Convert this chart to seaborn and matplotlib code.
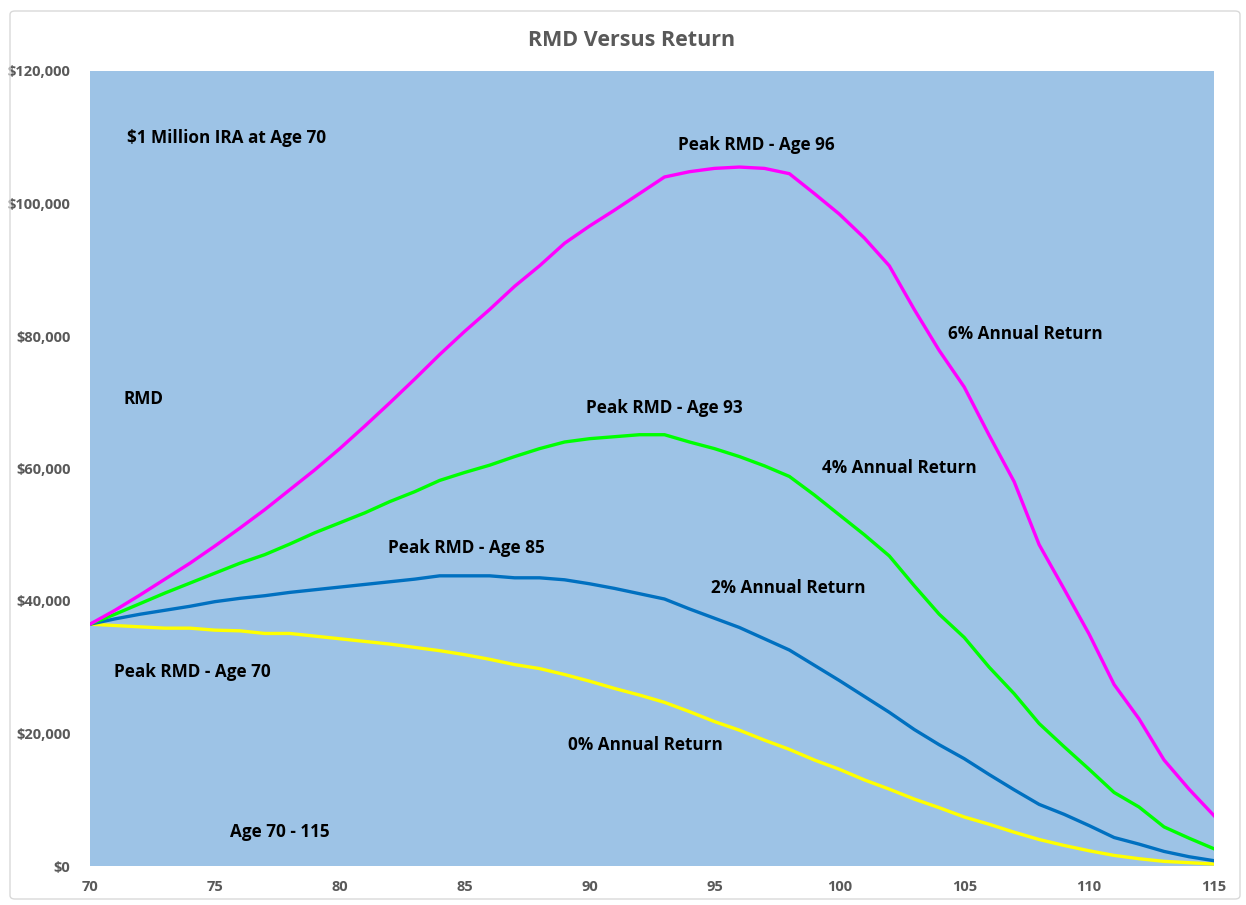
import numpy as np
import pandas as pd
import seaborn as sns
import matplotlib.pyplot as plt
from matplotlib.patches import FancyBboxPatch
from matplotlib.ticker import FuncFormatter

# Edad 70 a 115
ages = list(range(70, 116))

# RMD en miles de dolares
rmd_0 = [36.5, 36.3, 36.1, 35.9, 35.9, 35.6, 35.5, 35.1, 35.1, 34.7,
         34.3, 33.9, 33.5, 33.0, 32.5, 31.9, 31.2, 30.4, 29.8, 28.9,
         27.9, 26.8, 25.8, 24.7, 23.3, 21.8, 20.5, 19.0, 17.6, 16.0,
         14.6, 13.0, 11.6, 10.1, 8.8, 7.4, 6.3, 5.1, 4.0, 3.1,
         2.3, 1.6, 1.1, 0.7, 0.5, 0.3]
rmd_2 = [36.5, 37.3, 38.0, 38.6, 39.2, 39.9, 40.4, 40.8, 41.3, 41.7,
         42.1, 42.5, 42.9, 43.3, 43.8, 43.8, 43.8, 43.5, 43.5, 43.2,
         42.6, 41.9, 41.1, 40.3, 38.8, 37.4, 36.0, 34.3, 32.6, 30.3,
         28.0, 25.6, 23.2, 20.6, 18.3, 16.2, 13.8, 11.5, 9.3, 7.8,
         6.1, 4.3, 3.3, 2.2, 1.4, 0.8]
rmd_4 = [36.5, 38.0, 39.6, 41.2, 42.7, 44.2, 45.7, 47.0, 48.6, 50.3,
         51.8, 53.3, 55.0, 56.5, 58.2, 59.4, 60.5, 61.8, 63.0, 64.0,
         64.5, 64.8, 65.1, 65.1, 64.0, 63.0, 61.8, 60.4, 58.8, 56.0,
         53.0, 50.0, 46.8, 42.3, 38.0, 34.5, 30.0, 26.0, 21.5, 18.0,
         14.6, 11.1, 8.9, 5.9, 4.2, 2.6]
rmd_6 = [36.5, 38.6, 40.9, 43.3, 45.7, 48.3, 51.0, 53.8, 56.8, 59.8,
         63.0, 66.4, 69.9, 73.5, 77.2, 80.7, 84.0, 87.5, 90.6, 94.0,
         96.6, 99.0, 101.5, 104.0, 104.8, 105.3, 105.5, 105.3, 104.5, 101.5,
         98.4, 94.8, 90.6, 84.0, 77.8, 72.3, 65.0, 58.0, 48.5, 41.8,
         35.0, 27.4, 22.2, 16.0, 11.6, 7.6]

series = ["0%", "2%", "4%", "6%"]
colors = {"0%": "#FFFF00", "2%": "#0070C0", "4%": "#00FF00", "6%": "#FF00FF"}

df = pd.concat([
    pd.DataFrame({"age": ages, "rmd": np.array(v) * 1000, "ret": s})
    for s, v in zip(series, [rmd_0, rmd_2, rmd_4, rmd_6])
])

plt.rcParams['font.family'] = ['Open Sans', 'DejaVu Sans']

fig = plt.figure(figsize=(12.46, 9.05), dpi=100)
ax = fig.add_axes([90 / 1246, 39 / 905, 1124 / 1246, 795 / 905])
ax.set_facecolor("#9DC3E6")

sns.lineplot(data=df, x="age", y="rmd", hue="ret", hue_order=series,
             palette=colors, linewidth=2.4, legend=False, ax=ax)

ax.set_xlim(70, 115)
ax.set_ylim(0, 120000)
ax.set_xticks(range(70, 116, 5))
ax.set_yticks(range(0, 120001, 20000))
ax.yaxis.set_major_formatter(FuncFormatter(lambda v, p: f"${v:,.0f}"))
ax.tick_params(length=0, labelsize=10.5, colors="#595959")
ax.tick_params(axis="y", pad=14)
ax.tick_params(axis="x", pad=10)
for lab in ax.get_xticklabels() + ax.get_yticklabels():
    lab.set_fontweight("bold")
ax.set_xlabel("")
ax.set_ylabel("")
for sp in ax.spines.values():
    sp.set_visible(False)

fig.text(632 / 1246, 1 - 40 / 905, "RMD Versus Return", ha="center",
         va="center", fontsize=15.5, fontweight="bold", color="#595959")

notes = [
    (71.48, 109900, "$1 Million IRA at Age 70"),
    (71.36, 70500, "RMD"),
    (93.54, 108800, "Peak RMD - Age 96"),
    (104.35, 80300, "6% Annual Return"),
    (89.86, 69100, "Peak RMD - Age 93"),
    (99.3, 60100, "4% Annual Return"),
    (81.93, 48000, "Peak RMD - Age 85"),
    (94.86, 42000, "2% Annual Return"),
    (70.96, 29300, "Peak RMD - Age 70"),
    (89.13, 18300, "0% Annual Return"),
    (75.6, 5100, "Age 70 - 115"),
]
for x, y, t in notes:
    ax.text(x, y, t, ha="left", va="center", fontsize=12.3,
            fontweight="bold", color="black")

border = FancyBboxPatch((10 / 1246, 6 / 905), 1230 / 1246, 888 / 905,
                        boxstyle="round,pad=0,rounding_size=0.004",
                        transform=fig.transFigure, fill=False,
                        edgecolor="#D9D9D9", linewidth=1)
fig.patches.append(border)

fig.savefig("out.png", dpi=100)
